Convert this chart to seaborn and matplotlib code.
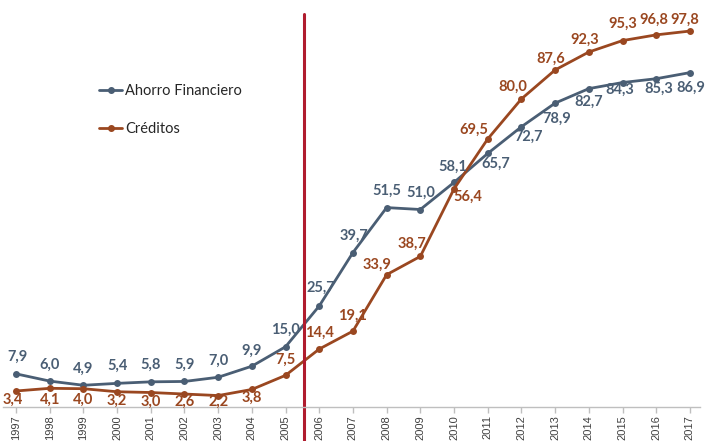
import seaborn as sns
import pandas as pd
import matplotlib.pyplot as plt

# data
years = list(range(1997, 2018))
ahorro = [7.9, 6.0, 4.9, 5.4, 5.8, 5.9, 7.0, 9.9, 15.0, 25.7, 39.7,
          51.5, 51.0, 58.1, 65.7, 72.7, 78.9, 82.7, 84.3, 85.3, 86.9]
creditos = [3.4, 4.1, 4.0, 3.2, 3.0, 2.6, 2.2, 3.8, 7.5, 14.4, 19.1,
            33.9, 38.7, 56.4, 69.5, 80.0, 87.6, 92.3, 95.3, 96.8, 97.8]
series_names = ["Ahorro Financiero", "Créditos"]

# label offsets (points) for each data label
off_ahorro = [(1, 12), (0, 11.5), (0, 12), (0, 12.5), (0, 12), (0, 12), (0, 12), (0, 11),
              (0, 12), (1, 13), (1, 12), (0, 12), (0, 12), (-1, 11.5),
              (6, -7.5), (5, -7.5), (1, -11.5), (0, -9.5), (-2, -5.5), (2, -7), (1, -11)]
off_creditos = [(-2, -6.5), (0, -8), (0, -8), (0, -6.5), (0, -6.5), (0, -5.5), (0, -4.5),
                (0, -6), (0, 11.5), (0, 12), (0, 11), (-7, 7), (-6, 9), (10, -5.5),
                (-10, 6.5), (-6, 9), (-3, 8), (-3, 9), (0, 12), (-1.5, 11), (-4, 8)]

colors = {"Ahorro Financiero": "#4a5e74", "Créditos": "#9a4720"}

df = pd.DataFrame({
    "year": years * 2,
    "value": ahorro + creditos,
    "serie": [series_names[0]] * len(years) + [series_names[1]] * len(years),
})

sns.set_theme(style="white")
plt.rcParams["font.family"] = ["Lato", "DejaVu Sans"]

fig = plt.figure(figsize=(7.11, 4.41), dpi=100)
ax = fig.add_axes([2.5 / 711, 34 / 441, 697.5 / 711, 395 / 441])

sns.lineplot(data=df, x="year", y="value", hue="serie", palette=colors,
             marker="o", markersize=5, markeredgewidth=0, linewidth=2,
             ax=ax, legend=False)

# data labels
for vals, offs, name in [(ahorro, off_ahorro, series_names[0]),
                         (creditos, off_creditos, series_names[1])]:
    for x, v, (dx, dy) in zip(years, vals, offs):
        ax.annotate(f"{v:.1f}".replace(".", ","), (x, v), xytext=(dx, dy),
                    textcoords="offset points", ha="center", va="center",
                    fontsize=10.5, fontweight="bold", color=colors[name])

# red separator line between 2005 and 2006
ax.axvline(2005.55, ymin=-0.09, ymax=0.995, color="#b01c2e", linewidth=2.2, clip_on=False)

ax.set_xlim(1996.6, 2017.3)
ax.set_ylim(-0.8, 102.8)
ax.set_xticks(years)
ax.set_xticklabels([str(y) for y in years], rotation=90, fontsize=8,
                   color="#404040", family="Liberation Sans")
ax.set_yticks([])
ax.set_xlabel("")
ax.set_ylabel("")
for s in ["top", "right", "left"]:
    ax.spines[s].set_visible(False)
ax.spines["bottom"].set_color("#bfbfbf")
ax.spines["bottom"].set_linewidth(1)
ax.tick_params(axis="x", bottom=True, direction="out", length=4, width=1,
               color="#bfbfbf", pad=2)

# legend
handles = [plt.Line2D([], [], color=colors[n], marker="o", markersize=4,
                      linewidth=2) for n in series_names]
ax.legend(handles, series_names, loc="upper left", bbox_to_anchor=(86 / 711, 1 - 71 / 441),
          bbox_transform=fig.transFigure, frameon=False, fontsize=10.5,
          handlelength=1.6, handletextpad=0.2, labelspacing=1.65)

fig.savefig("out.png", dpi=100)
